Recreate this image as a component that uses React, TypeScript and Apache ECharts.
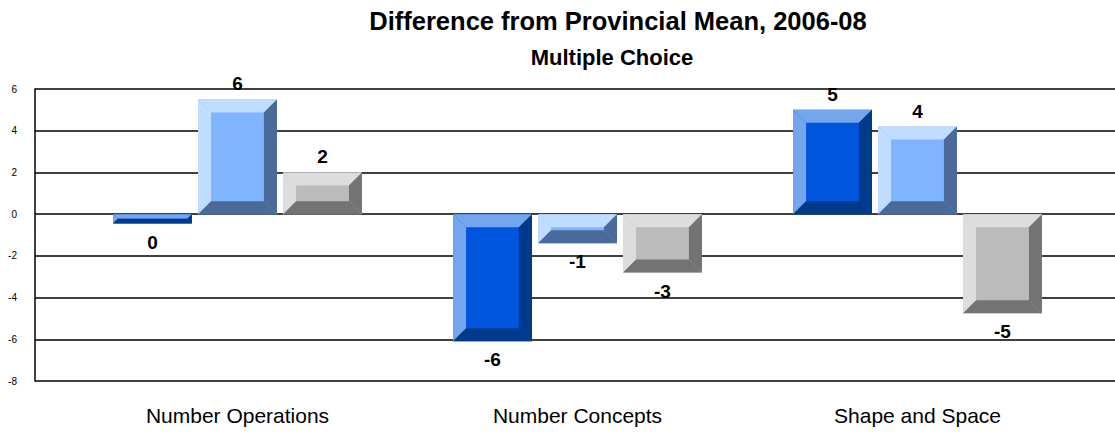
import React, { useEffect, useRef } from "react";
import * as echarts from "echarts";

const categories = ["Number Operations", "Number Concepts", "Shape and Space"];
const seriesDarkBlue = [-0.45, -6.1, 5.0];
const seriesLightBlue = [5.5, -1.4, 4.2];
const seriesGray = [2.0, -2.8, -4.75];
const yTicks = { min: -8, max: 6, interval: 2 };

const palettes = [
  { face: "#0055dd", light: "#73a6ec", dark: "#003a8c" },
  { face: "#80b4ff", light: "#c0dcff", dark: "#4a6a99" },
  { face: "#bbbbbb", light: "#dddddd", dark: "#737373" },
];

function makeRender(seriesIdx: number) {
  const pal = palettes[seriesIdx];
  return (params: any, api: any) => {
    const cat = api.value(0);
    const v = api.value(1);
    const c = api.coord([cat, v]);
    const z = api.coord([cat, 0]);
    const band = api.size([1, 0])[0];
    const w = band * 0.232;
    const step = band * 0.25;
    const cx = c[0] + (seriesIdx - 1) * step;
    const x0 = cx - w / 2;
    const x1 = cx + w / 2;
    const yTop = Math.min(c[1], z[1]);
    const yBot = Math.max(c[1], z[1]);
    const h = yBot - yTop;
    const b = Math.min(13, h / 2, w / 2);
    const r = Math.round(v);
    const label = String(r === 0 ? 0 : r);
    return {
      type: "group",
      children: [
        { type: "rect", shape: { x: x0, y: yTop, width: w, height: h }, style: { fill: pal.face } },
        { type: "polygon", shape: { points: [[x0, yTop], [x1, yTop], [x1 - b, yTop + b], [x0 + b, yTop + b]] }, style: { fill: pal.light } },
        { type: "polygon", shape: { points: [[x0, yTop], [x0 + b, yTop + b], [x0 + b, yBot - b], [x0, yBot]] }, style: { fill: pal.light } },
        { type: "polygon", shape: { points: [[x1, yTop], [x1, yBot], [x1 - b, yBot - b], [x1 - b, yTop + b]] }, style: { fill: pal.dark } },
        { type: "polygon", shape: { points: [[x0, yBot], [x1, yBot], [x1 - b, yBot - b], [x0 + b, yBot - b]] }, style: { fill: pal.dark } },
        {
          type: "text",
          x: cx,
          y: v >= 0 ? yTop - 6 : yBot + 9,
          style: {
            text: label,
            fill: "#000",
            font: "bold 19px 'Liberation Sans', Arial, sans-serif",
            align: "center",
            verticalAlign: v >= 0 ? "bottom" : "top",
          },
        },
      ],
    };
  };
}

export default function App() {
  const ref = useRef<HTMLDivElement>(null);
  useEffect(() => {
    const chart = echarts.init(ref.current!, undefined, { renderer: "svg" });
    const allSeries = [seriesDarkBlue, seriesLightBlue, seriesGray];
    chart.setOption({
      animation: false,
      backgroundColor: "#fff",
      title: [
        {
          text: "Difference from Provincial Mean, 2006-08",
          left: 613,
          top: 3,
          textAlign: "center",
          textStyle: { fontFamily: "'Liberation Sans', Arial", fontWeight: "bold", fontSize: 25.5, color: "#000" },
        },
        {
          text: "Multiple Choice",
          left: 607,
          top: 41,
          textAlign: "center",
          textStyle: { fontFamily: "'Liberation Sans', Arial", fontWeight: "bold", fontSize: 22, color: "#000" },
        },
      ],
      grid: [
        { left: 35, right: 0, top: 89, bottom: 55 },
        { left: 67.5, right: 27.5, top: 89, bottom: 55 },
      ],
      xAxis: [
        { type: "category", gridIndex: 0, data: categories, show: false },
        {
          type: "category",
          gridIndex: 1,
          data: categories,
          axisLine: { show: false },
          axisTick: { show: false },
          axisLabel: { color: "#000", fontSize: 21, fontFamily: "'Liberation Sans', Arial", margin: 24 },
        },
      ],
      yAxis: [
        {
          type: "value",
          gridIndex: 0,
          min: yTicks.min,
          max: yTicks.max,
          interval: yTicks.interval,
          axisLine: { show: true, lineStyle: { color: "#000", width: 1.5 } },
          axisTick: { show: false },
          axisLabel: { color: "#000", fontSize: 10, fontFamily: "'Liberation Sans', Arial", margin: 18 },
          splitLine: { show: true, lineStyle: { color: "#000", width: 1.5 } },
        },
        {
          type: "value",
          gridIndex: 1,
          min: yTicks.min,
          max: yTicks.max,
          interval: yTicks.interval,
          show: false,
          splitLine: { show: false },
        },
      ],
      series: allSeries.map((vals, i) => ({
        type: "custom",
        xAxisIndex: 1,
        yAxisIndex: 1,
        renderItem: makeRender(i),
        encode: { x: 0, y: 1 },
        data: vals.map((v, j) => [j, v]),
        z: 3,
      })),
    });
    return () => chart.dispose();
  }, []);
  return <div ref={ref} style={{ position: "fixed", left: 0, top: 0, width: 1115, height: 436 }} />;
}
